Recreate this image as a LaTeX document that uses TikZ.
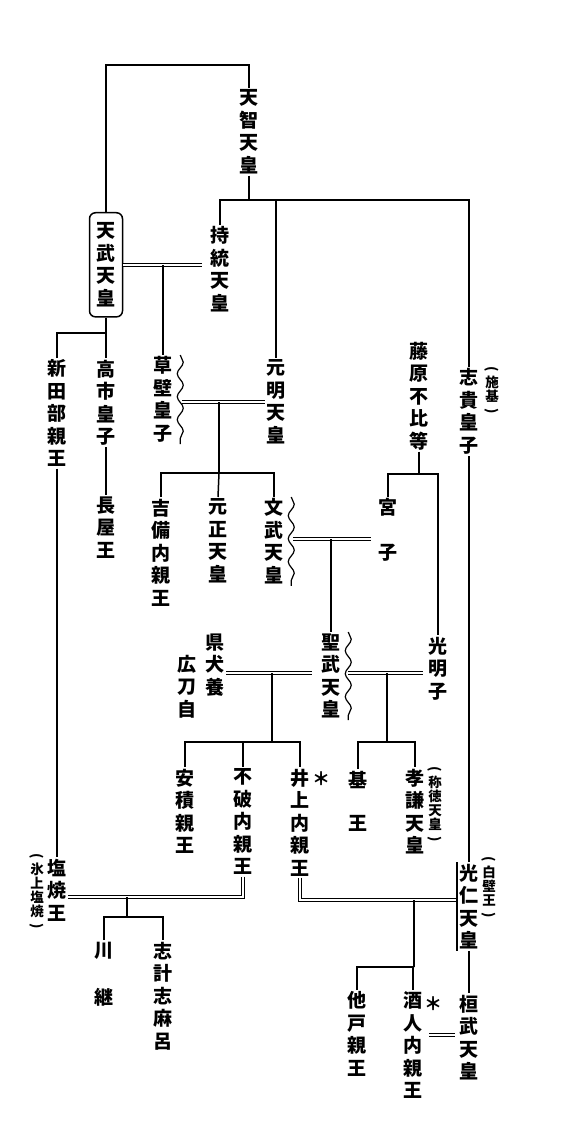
\documentclass[tikz,border=0pt]{standalone}
\usepackage{fontspec}
\newfontfamily\jp{Noto Sans CJK JP}
\usetikzlibrary{decorations.pathmorphing}
\newcommand\ptop{\rotatebox[origin=c]{-90}{(}}
\newcommand\pbot{\rotatebox[origin=c]{-90}{)}}
\tikzset{
  every picture/.style={line width=1.5pt},
  person/.style={font=\jp\bfseries\fontsize{19}{22.5}\selectfont, align=center, inner sep=1pt, anchor=north},
  aside/.style={font=\jp\bfseries\fontsize{13.5}{14}\selectfont, align=center, inner sep=0pt, anchor=north},
  starmark/.style={font=\jp\bfseries\fontsize{18}{18}\selectfont, inner sep=0pt},
  wed/.style={double, double distance=2pt, line width=0.9pt},
  wave/.style={decorate, decoration={snake, segment length=23pt, amplitude=3pt}, line width=1.2pt},
}

\begin{document}
\begin{tikzpicture}[x=1pt, y=-1pt]
  \useasboundingbox (0,0) rectangle (574,1131);
  % first generation
  \node[person] (tenji) at (249,88) {天\\智\\天\\皇};
  \node[person, draw, rounded corners=6pt, inner xsep=7pt, inner ysep=10pt] (tenmu) at (106,212) {天\\武\\天\\皇};
  \node[person] (jito) at (220,225) {持\\統\\天\\皇};
  \node[person] (genmei) at (276,358) {元\\明\\天\\皇};
  \node[person] (shiki) at (469,367) {志\\貴\\皇\\子};
  \node[aside] (shikiN) at (492,366) {\ptop\\施\\基\\\pbot};
  \node[person] (niitabe) at (57,358) {新\\田\\部\\親\\王};
  \node[person] (takechi) at (106,358) {高\\市\\皇\\子};
  \node[person] (nagaya) at (106,495) {長\\屋\\王};
  \node[person] (kusakabe) at (163,355) {草\\壁\\皇\\子};
  % Kusakabe's children
  \node[person] (kibi) at (161,497) {吉\\備\\内\\親\\王};
  \node[person] (gensho) at (218,497) {元\\正\\天\\皇};
  \node[person] (monmu) at (274,497) {文\\武\\天\\皇};
  \node[person] (miyako) at (388,497) {宮\\[22.5pt]子};
  \node[person] (fuhito) at (419,340) {藤\\原\\不\\比\\等};
  % Shomu and wives
  \node[person] (shomu) at (331,632) {聖\\武\\天\\皇};
  \node[person] (komyo) at (438,635) {光\\明\\子};
  \node[person] (agata) at (215,632) {県\\犬\\養};
  \node[person] (hirotoji) at (187,653) {広\\刀\\自};
  % Shomu's children
  \node[person] (asaka) at (185,767) {安\\積\\親\\王};
  \node[person] (fuwa) at (243,767) {不\\破\\内\\親\\王};
  \node[person] (inoue) at (300,767) {井\\上\\内\\親\\王};
  \node[starmark] (star1) at (321,779) {＊};
  \node[person] (motoi) at (358,769) {基\\[20.5pt]王};
  \node[person] (koken) at (415,767) {孝\\謙\\天\\皇};
  \node[aside] (kokenN) at (435,766) {\ptop\\称\\徳\\天\\皇\\\pbot};
  % last generation
  \node[person] (shioyaki) at (57,857) {塩\\焼\\王};
  \node[aside] (shioyakiN) at (37,853) {\ptop\\氷\\上\\塩\\焼\\\pbot};
  \node[person] (kawatsugu) at (104,940) {川\\[24.5pt]継};
  \node[person] (shikeshi) at (163,940) {志\\計\\志\\麻\\呂};
  \node[person] (konin) at (469,862) {光\\仁\\天\\皇};
  \node[aside] (koninN) at (489,856) {\ptop\\白\\壁\\王\\\pbot};
  \node[person] (osabe) at (357,990) {他\\戸\\親\\王};
  \node[person] (sakahito) at (413,990) {酒\\人\\内\\親\\王};
  \node[starmark] (star2) at (433,1004) {＊};
  \node[person] (kanmu) at (469,993) {桓\\武\\天\\皇};

  % junctions
  \coordinate (tk) at (249,65);
  \coordinate (tj) at (249,200);
  \coordinate (tc) at (106,333);
  \coordinate (m1) at (163,265);
  \coordinate (m2) at (219,402);
  \coordinate (c2) at (219,473);
  \coordinate (m3) at (331,539);
  \coordinate (f1) at (419,474);
  \coordinate (m4) at (272,673);
  \coordinate (c4) at (272,742);
  \coordinate (m5) at (387,673);
  \coordinate (c5) at (387,742);
  \coordinate (m6) at (127,897);
  \coordinate (c6) at (127,917);
  \coordinate (m7) at (414,900);
  \coordinate (c7) at (414,967);
  \coordinate (m8) at (440,1035);

  % Tenji and Tenmu
  \draw (tenmu.north) |- (tk) -- (tenji.north);
  \draw (tenji.south) -- (tj);
  \draw (jito.north) |- (tj) -| (shiki.north);
  \draw (tj -| genmei) -- (genmei.north);
  \draw[wed] (tenmu.east |- m1) -- ([xshift=-7pt]jito.west |- m1);
  \draw (m1) -- (kusakabe.north);
  \draw (tenmu.south) -- (takechi.north);
  \draw (niitabe.north) |- (tc);
  \draw (takechi.south) -- (nagaya.north);
  \draw (niitabe.south) -- (shioyaki.north);
  \draw (shiki.south) -- (konin.north);
  % Kusakabe and Genmei
  \draw[wave] ([xshift=6pt]kusakabe.north east) -- ([xshift=6pt]kusakabe.south east);
  \draw[wed] ([xshift=8pt]kusakabe.east |- m2) -- (genmei.west |- m2);
  \draw (m2) -- (c2);
  \draw (kibi.north) |- (c2) -| (monmu.north);
  \draw (c2) -- (gensho.north);
  % Monmu and Miyako
  \draw[wave] ([xshift=6pt]monmu.north east) -- ([xshift=6pt]monmu.south east);
  \draw[wed] ([xshift=8pt]monmu.east |- m3) -- ([xshift=-6pt]miyako.west |- m3);
  \draw (m3) -- (shomu.north);
  \draw (fuhito.south) -- (f1);
  \draw (miyako.north) |- (f1) -| (komyo.north);
  % Shomu
  \draw[wave] ([xshift=6pt]shomu.north east) -- ([xshift=6pt]shomu.south east);
  \draw[wed] (agata.east |- m4) -- ([xshift=-8pt]shomu.west |- m4);
  \draw (m4) -- (c4);
  \draw (asaka.north) |- (c4) -| (inoue.north);
  \draw (c4 -| fuwa) -- (fuwa.north);
  \draw[wed] ([xshift=6pt]shomu.east |- m5) -- ([xshift=-4pt]komyo.west |- m5);
  \draw (m5) -- (c5);
  \draw (motoi.north) |- (c5) -| (koken.north);
  % Fuwa and Shioyaki
  \draw[wed] (fuwa.south) |- (shioyaki.east |- m6);
  \draw (m6) -- (c6);
  \draw (kawatsugu.north) |- (c6) -| (shikeshi.north);
  % Inoue and Konin
  \draw[wed] (inoue.south) |- ([xshift=-1pt]konin.west |- m7);
  \draw ([xshift=-1pt]konin.north west) -- ([xshift=-1pt]konin.south west);
  \draw (konin.south) -- (kanmu.north);
  \draw (m7) -- (c7);
  \draw (osabe.north) |- (c7) -| (sakahito.north);
  \draw[wed] ([xshift=5pt]sakahito.east |- m8) -- ([xshift=-3pt]kanmu.west |- m8);
\end{tikzpicture}
\end{document}
